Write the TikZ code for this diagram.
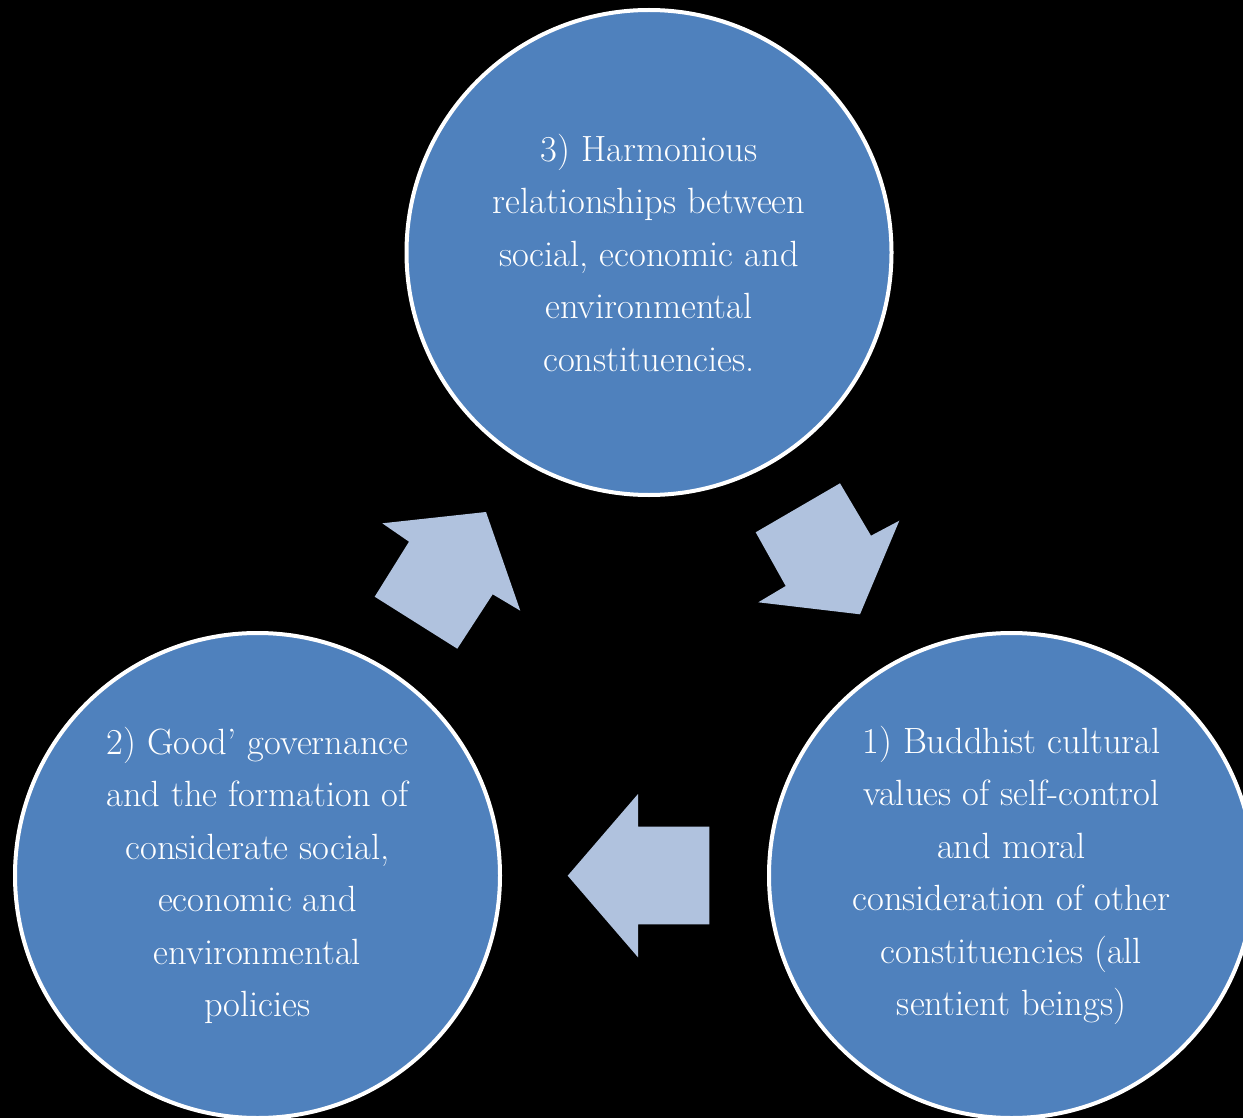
\documentclass[tikz,border=0pt]{standalone}
\usepackage{tikz}
\usetikzlibrary{positioning}
\definecolor{circblue}{RGB}{79,129,189}
\definecolor{arrblue}{RGB}{176,194,222}
\tikzset{%
  c/.style = {circle,draw=white,line width=4pt,fill=circblue,
        minimum size=485pt,inner sep=0pt,text=white,align=center,
        font=\fontsize{36.5}{52.5}\selectfont},
  blockarrow/.style = {fill=arrblue,draw=none}
}

\begin{document}
\begin{tikzpicture}[x=1pt,y=-1pt]
    \fill[black] (0,0) rectangle (1243,1118);
    \useasboundingbox (0,0) rectangle (1243,1118);
    \node[c] (harmony) at (649,252.5)
        {3) Harmonious\\relationships between\\social, economic and\\environmental\\constituencies.};
    \node[c] (governance) at (257.5,875.5)
        {2) Good’ governance\\and the formation of\\considerate social,\\economic and\\environmental\\policies};
    \node[c] (values) at (1011.5,875.5)
        {1) Buddhist cultural\\values of self-control\\and moral\\consideration of other\\constituencies (all\\sentient beings)};
    % governance -> harmony
    \fill[blockarrow] (382.3,523.3) -- (486,512) -- (520.3,610.7) -- (492.7,594.3)
        -- (457.3,648.7) -- (374.7,596.7) -- (409,541.7) -- cycle;
    % harmony -> values
    \fill[blockarrow] (840,483.3) -- (871,535.7) -- (899.3,520.7) -- (860,614.3)
        -- (758.3,602.3) -- (785.7,586) -- (755.7,532.3) -- cycle;
    % values -> governance
    \fill[blockarrow] (567.7,875.7) -- (638,794) -- (638,826.7) -- (709.3,826.7)
        -- (709.3,924.3) -- (638,924.3) -- (638,957.3) -- cycle;
\end{tikzpicture}
\end{document}
